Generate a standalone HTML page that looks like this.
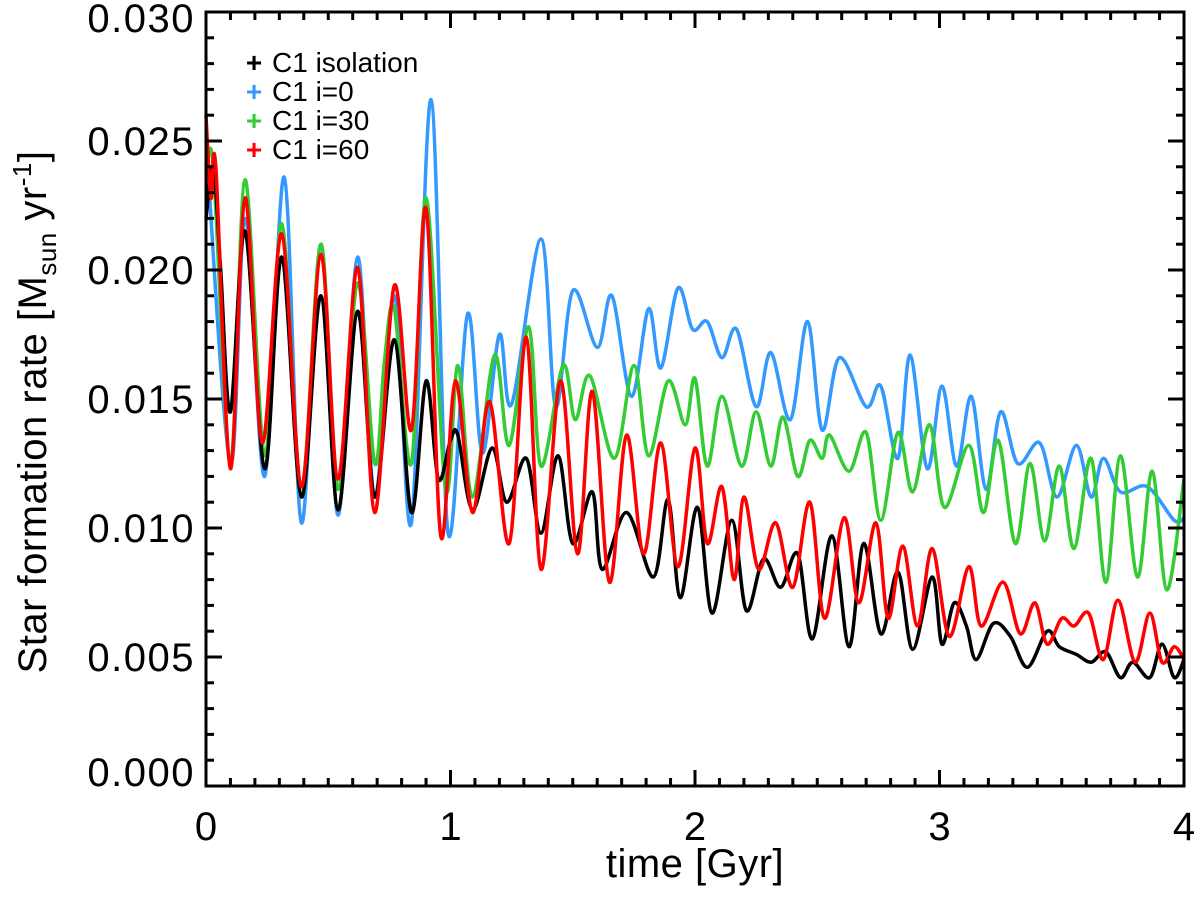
<!DOCTYPE html>
<html><head><meta charset="utf-8"><style>
body{margin:0;background:#fff;}
svg{display:block;font-family:"Liberation Sans",Arial,sans-serif;}
</style></head><body>
<svg id="chart" width="1200" height="902" xmlns="http://www.w3.org/2000/svg">
<g id="marks"></g>
<g id="axes"></g>
<g id="legend"></g>
<text x="695" y="877" font-size="40" letter-spacing="0.5" text-anchor="middle">time [Gyr]</text>
<text transform="translate(46,412) rotate(-90)" font-size="40" letter-spacing="0.5" text-anchor="middle">Star formation rate [M<tspan font-size="26" dy="10">sun</tspan><tspan dy="-10"> yr</tspan><tspan font-size="26" dy="-15">-1</tspan><tspan dy="15">]</tspan></text>
</svg>
<script>
const xTicks=[0,1,2,3,4];
const yTicks=[0,0.005,0.010,0.015,0.020,0.025,0.030];
const yTickLabels=["0.000","0.005","0.010","0.015","0.020","0.025","0.030"];
const seriesNames=["C1 isolation","C1 i=0","C1 i=30","C1 i=60"];
const seriesColors=["#000000","#3399ff","#33cc33","#ff0000"];
const isoT=[0,0.03,0.06,0.1,0.16,0.24,0.31,0.39,0.47,0.54,0.62,0.69,0.77,0.84,0.9,0.95,1.0,1.03,1.09,1.17,1.23,1.31,1.37,1.44,1.5,1.58,1.62,1.72,1.83,1.89,1.94,2.01,2.07,2.15,2.21,2.28,2.35,2.42,2.48,2.56,2.63,2.69,2.76,2.83,2.89,2.97,3.01,3.06,3.11,3.15,3.22,3.29,3.36,3.44,3.49,3.56,3.62,3.68,3.74,3.79,3.86,3.91,3.96,4.0];
const isoV=[0.022,0.024,0.02,0.0145,0.0215,0.0123,0.0205,0.0112,0.019,0.0107,0.0184,0.0112,0.0173,0.0106,0.0157,0.0119,0.0134,0.0136,0.0107,0.0131,0.011,0.0127,0.0098,0.0128,0.0094,0.0114,0.0084,0.0106,0.0081,0.0111,0.0073,0.0108,0.0067,0.0103,0.0068,0.0088,0.0077,0.009,0.0057,0.0097,0.0054,0.0094,0.0059,0.0083,0.0053,0.0081,0.0055,0.0071,0.0062,0.0049,0.0063,0.0058,0.0046,0.006,0.0054,0.0051,0.0048,0.0052,0.0042,0.0048,0.0042,0.0055,0.0042,0.0049];
const i0T=[0,0.1,0.16,0.24,0.32,0.39,0.47,0.54,0.62,0.69,0.77,0.84,0.92,0.99,1.07,1.13,1.2,1.25,1.37,1.43,1.5,1.6,1.66,1.74,1.81,1.86,1.93,1.99,2.05,2.11,2.17,2.25,2.31,2.39,2.46,2.52,2.59,2.7,2.76,2.83,2.88,2.95,3.01,3.07,3.13,3.19,3.25,3.32,3.41,3.48,3.56,3.62,3.67,3.74,3.85,3.96,4.0];
const i0V=[0.025,0.0125,0.022,0.012,0.0236,0.0102,0.021,0.0105,0.0205,0.0112,0.019,0.0102,0.0266,0.0098,0.0183,0.0129,0.0175,0.0148,0.0212,0.0147,0.0192,0.017,0.019,0.0151,0.0185,0.0162,0.0193,0.0177,0.018,0.0166,0.0177,0.0147,0.0168,0.0142,0.018,0.0138,0.0166,0.0147,0.0155,0.0127,0.0167,0.0123,0.0155,0.0124,0.0151,0.0115,0.0145,0.0125,0.0133,0.0112,0.0132,0.0112,0.0127,0.0114,0.0116,0.0103,0.0104];
const i30T=[0,0.03,0.1,0.16,0.24,0.31,0.39,0.47,0.54,0.62,0.69,0.73,0.77,0.84,0.9,0.98,1.03,1.09,1.18,1.24,1.32,1.37,1.46,1.51,1.57,1.67,1.75,1.81,1.89,1.96,2.0,2.05,2.11,2.19,2.25,2.31,2.36,2.42,2.47,2.52,2.55,2.63,2.7,2.76,2.83,2.89,2.96,3.02,3.12,3.18,3.24,3.31,3.37,3.43,3.49,3.55,3.62,3.68,3.74,3.81,3.87,3.93,4.0];
const i30V=[0.0235,0.024,0.0125,0.0235,0.0128,0.0218,0.0116,0.021,0.0115,0.0195,0.0125,0.0165,0.0185,0.0125,0.0228,0.0115,0.0163,0.0112,0.0167,0.0132,0.0178,0.0124,0.0163,0.0142,0.0159,0.0127,0.0163,0.0128,0.0157,0.014,0.0158,0.0124,0.0151,0.0124,0.0145,0.0124,0.0143,0.012,0.0134,0.0127,0.0136,0.0122,0.0137,0.0103,0.0137,0.0114,0.014,0.0108,0.0132,0.0106,0.0134,0.0094,0.0125,0.0095,0.0124,0.0092,0.0127,0.0079,0.0128,0.0081,0.0122,0.0076,0.0119];
const i60T=[0,0.02,0.04,0.1,0.16,0.23,0.31,0.39,0.47,0.54,0.62,0.69,0.77,0.84,0.9,0.96,1.02,1.09,1.16,1.24,1.31,1.37,1.45,1.52,1.58,1.65,1.72,1.79,1.86,1.93,2.0,2.05,2.11,2.16,2.2,2.26,2.33,2.4,2.47,2.53,2.61,2.67,2.74,2.79,2.85,2.91,2.97,3.04,3.12,3.17,3.26,3.33,3.39,3.44,3.5,3.55,3.61,3.67,3.73,3.8,3.86,3.91,3.96,4.0];
const i60V=[0.026,0.0228,0.024,0.0123,0.0228,0.0133,0.0214,0.0116,0.0206,0.0119,0.0201,0.0106,0.0194,0.0138,0.0224,0.0097,0.0157,0.0106,0.0149,0.0094,0.0174,0.0084,0.0157,0.009,0.0153,0.0079,0.0136,0.009,0.0133,0.0085,0.0131,0.0094,0.0116,0.008,0.0112,0.0084,0.0102,0.0077,0.011,0.0065,0.0104,0.0071,0.0102,0.0065,0.0093,0.0062,0.0092,0.0058,0.0085,0.0062,0.0079,0.0059,0.0071,0.0055,0.0065,0.0062,0.0067,0.0049,0.0072,0.0048,0.0067,0.0048,0.0054,0.0049];

const L=206,R=1184,T=12,B=786;
const X0=0,X1=4,Y0=0,Y1=0.030;
function sx(t){return L+(t-X0)/(X1-X0)*(R-L);}
function sy(v){return B-(v-Y0)/(Y1-Y0)*(B-T);}
const NS="http://www.w3.org/2000/svg";
function mk(tag,parent){const e=document.createElementNS(NS,tag);parent.appendChild(e);return e;}
const marks=document.getElementById('marks'),axes=document.getElementById('axes'),legend=document.getElementById('legend');
function pathFor(ts,vs){
  const p=ts.map((t,i)=>[sx(t),sy(vs[i])]);
  let d="M"+p[0][0].toFixed(1)+","+p[0][1].toFixed(1);
  for(let i=0;i<p.length-1;i++){
    const p0=p[Math.max(0,i-1)],p1=p[i],p2=p[i+1],p3=p[Math.min(p.length-1,i+2)];
    const c1=[p1[0]+(p2[0]-p0[0])/6,p1[1]+(p2[1]-p0[1])/6];
    const c2=[p2[0]-(p3[0]-p1[0])/6,p2[1]-(p3[1]-p1[1])/6];
    d+=" C"+c1[0].toFixed(1)+","+c1[1].toFixed(1)+" "+c2[0].toFixed(1)+","+c2[1].toFixed(1)+" "+p2[0].toFixed(1)+","+p2[1].toFixed(1);
  }
  return d;
}
const allT=[isoT,i0T,i30T,i60T],allV=[isoV,i0V,i30V,i60V];
const lineNames=['line-isolation','line-i0','line-i30','line-i60'];
for(const k of [1,2,0,3]){
  const e=mk('path',marks);
  e.setAttribute('d',pathFor(allT[k],allV[k]));
  e.setAttribute('fill','none');e.setAttribute('stroke',seriesColors[k]);
  e.setAttribute('stroke-width','3.5');e.setAttribute('stroke-linejoin','round');
  
  
}
const fr=mk('rect',axes);
fr.setAttribute('x',L);fr.setAttribute('y',T);fr.setAttribute('width',R-L);fr.setAttribute('height',B-T);
fr.setAttribute('fill','none');fr.setAttribute('stroke','#000');fr.setAttribute('stroke-width','3');


function tick(x1,y1,x2,y2){const e=mk('line',axes);e.setAttribute('x1',x1);e.setAttribute('y1',y1);e.setAttribute('x2',x2);e.setAttribute('y2',y2);e.setAttribute('stroke','#000');e.setAttribute('stroke-width','3');

}
for(let i=0;i<=40;i++){const t=i/10;const x=sx(t);const len=(i%10===0)?16:8;tick(x,B,x,B-len);tick(x,T,x,T+len);}
for(let i=0;i<=30;i++){const v=i*0.001;const y=sy(v);const len=(i%5===0)?16:8;tick(L,y,L+len,y);tick(R,y,R-len,y);}
xTicks.forEach(t=>{const e=mk('text',axes);e.setAttribute('x',sx(t));e.setAttribute('y',B+54);e.setAttribute('font-size','40');e.setAttribute('text-anchor','middle');e.textContent=String(t);

});
yTicks.forEach((v,i)=>{const e=mk('text',axes);let y=sy(v)+14;if(i===0)y-=14;if(i===yTicks.length-1)y+=6;e.setAttribute('x',195);e.setAttribute('y',y);e.setAttribute('font-size','40');e.setAttribute('letter-spacing','1.5');e.setAttribute('text-anchor','end');e.textContent=yTickLabels[i];

});
seriesNames.forEach((n,i)=>{
  const y=72+i*29;
  const g=mk('g',legend);
  
  
  const p=mk('text',g);p.setAttribute('x',254);p.setAttribute('y',y);p.setAttribute('font-size','28');p.setAttribute('font-weight','bold');p.setAttribute('fill',seriesColors[i]);p.setAttribute('text-anchor','middle');p.textContent='+';
  const t=mk('text',g);t.setAttribute('x',272);t.setAttribute('y',y);t.setAttribute('font-size','28');t.setAttribute('fill','#000');t.textContent=n;
});
</script>
</body></html>
